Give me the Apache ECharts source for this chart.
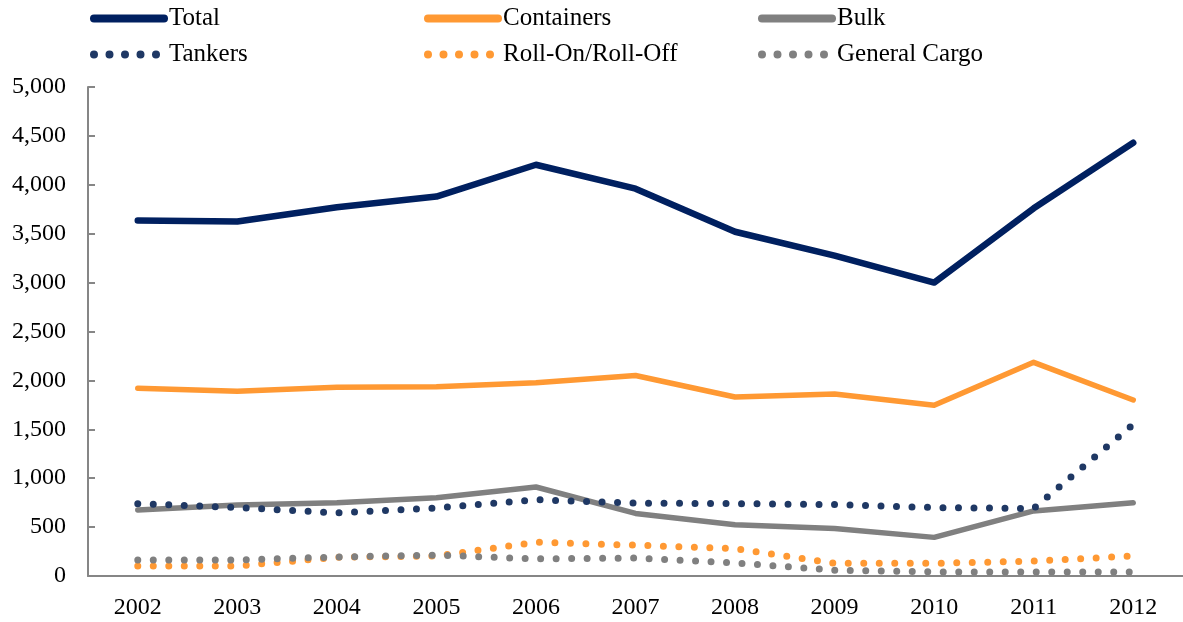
<!DOCTYPE html>
<html>
<head>
<meta charset="utf-8">
<script src="https://cdn.jsdelivr.net/npm/echarts@6/dist/echarts.min.js"></script>
<style>
html,body{margin:0;padding:0;background:#fff;}
#chart{width:1183px;height:622px;}
</style>
</head>
<body>
<div id="chart"></div>
<script>
var years = ['2002','2003','2004','2005','2006','2007','2008','2009','2010','2011','2012'];
var total = [3635, 3625, 3770, 3880, 4205, 3960, 3520, 3275, 3000, 3760, 4430];
var containers = [1920, 1890, 1930, 1935, 1975, 2050, 1830, 1860, 1745, 2185, 1800];
var bulk = [675, 725, 750, 800, 910, 640, 525, 485, 395, 665, 750];
var tankers = [740, 700, 645, 695, 780, 745, 740, 730, 700, 690, 1550];
var roro = [102, 102, 192, 204, 345, 315, 280, 130, 130, 152, 205];
var general = [164, 164, 194, 214, 175, 184, 133, 60, 41, 41, 41];
var yTicks = [0, 500, 1000, 1500, 2000, 2500, 3000, 3500, 4000, 4500, 5000];

var fontFam = '"Liberation Serif", "DejaVu Serif", serif';
var navy = '#002060', orange = '#FF9933', grey = '#808080', tankNavy = '#1F3864';
var dots = [0, 15.5];

function solid(name, data, color, w){
	return {
		name: name, type: 'line', data: data, symbol: 'none', silent: true,
		lineStyle: {color: color, width: w, cap: 'round', join: 'round'},
		itemStyle: {color: color}
	};
}
function dotted(name, data, color){
	return {
		name: name, type: 'line', data: data, symbol: 'none', silent: true,
		lineStyle: {color: color, width: 7, type: dots, cap: 'round', join: 'round'},
		itemStyle: {color: color}
	};
}
// one legend per item so columns line up like the original
function leg(name, left, top){
	return {
		data: [name], left: left, top: top, itemWidth: 70, itemHeight: 14,
		selectedMode: false, padding: 0,
		itemStyle: {opacity: 0},
		lineStyle: {width: 8, opacity: 1},
		textStyle: {fontFamily: fontFam, fontSize: 25, color: '#000'}
	};
}

var chart = echarts.init(document.getElementById('chart'));
chart.setOption({
	animation: false,
	backgroundColor: '#fff',
	legend: [
		leg('Total', 90, 6), leg('Containers', 424, 6), leg('Bulk', 758, 6),
		leg('Tankers', 90, 42), leg('Roll-On/Roll-Off', 424, 42), leg('General Cargo', 758, 42)
	],
	grid: {left: 88, top: 87, bottom: 46, width: 1102},
	xAxis: {
		type: 'category', data: years, boundaryGap: true,
		axisLine: {lineStyle: {color: '#868686', width: 2}},
		axisTick: {show: false},
		axisLabel: {fontFamily: fontFam, fontSize: 24, color: '#000', margin: 20}
	},
	yAxis: {
		type: 'value', min: yTicks[0], max: yTicks[yTicks.length - 1], interval: 500,
		axisLine: {show: true, lineStyle: {color: '#868686', width: 2}},
		axisTick: {show: true, inside: true, length: 7, lineStyle: {color: '#868686', width: 2}},
		splitLine: {show: false},
		axisLabel: {
			fontFamily: fontFam, fontSize: 24, color: '#000', margin: 22,
			formatter: function(v){ return v.toLocaleString('en-US'); }
		}
	},
	series: [
		solid('Total', total, navy, 6.5),
		solid('Containers', containers, orange, 5.5),
		solid('Bulk', bulk, grey, 5.5),
		dotted('Tankers', tankers, tankNavy),
		dotted('Roll-On/Roll-Off', roro, orange),
		dotted('General Cargo', general, grey)
	]
});
</script>
</body>
</html>
